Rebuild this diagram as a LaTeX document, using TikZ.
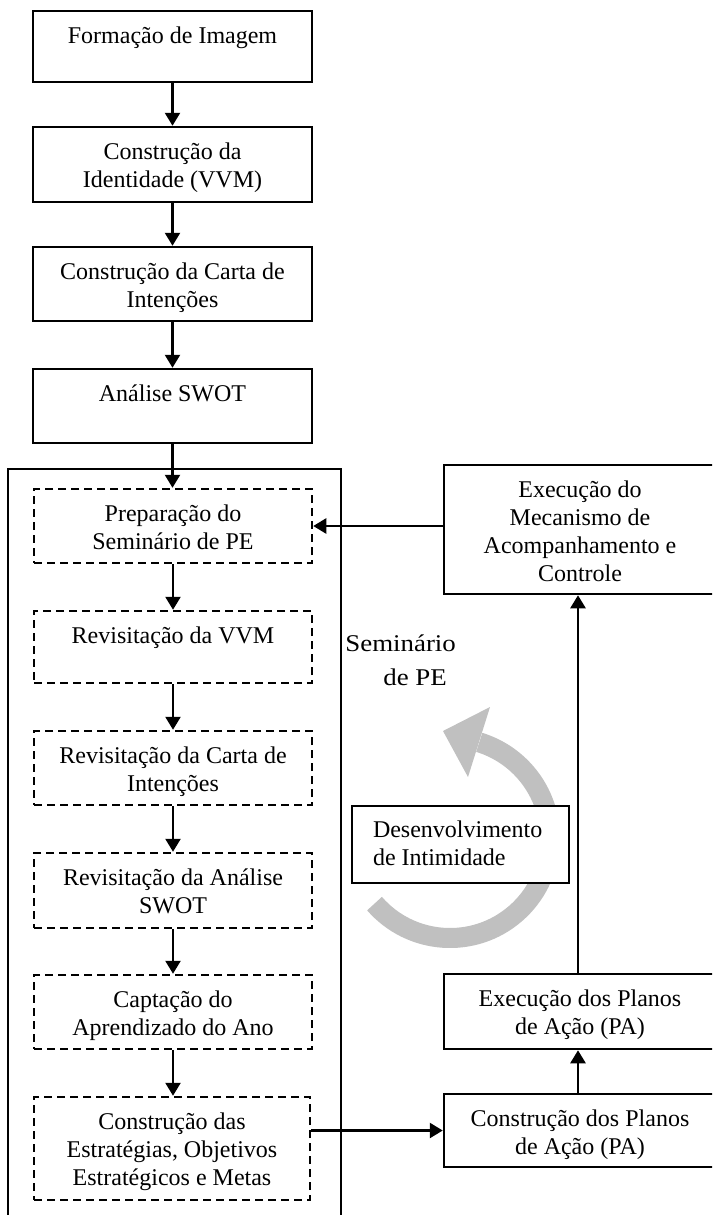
\documentclass[tikz,border=0pt]{standalone}
\usepackage{fontspec}
\setmainfont{Liberation Serif}
\newfontfamily\widefont{Liberation Serif}[FakeStretch=1.12]
\usetikzlibrary{arrows.meta,calc}
\definecolor{arcgray}{RGB}{192,192,192}
\newcommand{\bx}[3]{\parbox[c][#2][t]{#1}{\centering\vspace*{6.2pt}\strut #3}}
\tikzset{
  sbox/.style={draw, line width=1.25pt, inner sep=0pt, fill=white, font=\fontsize{12pt}{14pt}\selectfont},
  dbox/.style={sbox, dash pattern=on 4pt off 2.5pt},
  arr/.style={line width=1.25pt, -{Triangle[width=7.5pt,length=6.5pt]}},
  frame/.style={line width=1.25pt},
}
\begin{document}
\begin{tikzpicture}[x=0.5pt,y=-0.5pt]
\useasboundingbox (0,0) rectangle (712,1215);
\clip (0,0) rectangle (712,1215);
\fill[white] (0,0) rectangle (712,1215);
% left column
\node[sbox] (b1) at (172.5,46.5) {\bx{139.5pt}{35.5pt}{Formação de Imagem}};
\node[sbox] (b2) at (172.5,164.5) {\bx{139.5pt}{37.5pt}{Construção da\\Identidade (VVM)}};
\node[sbox] (b3) at (172.5,284) {\bx{139.5pt}{37pt}{Construção da Carta de\\Intenções}};
\node[sbox] (b4) at (172.5,406) {\bx{139.5pt}{37pt}{Análise SWOT}};
% seminar frame
\draw[frame] (8,1240) -- (8,469) -- (341,469) -- (341,1240);
\node[dbox] (d1) at (173,526) {\bx{139pt}{37pt}{Preparação do\\Seminário de PE}};
\node[dbox] (d2) at (173,647) {\bx{139pt}{36pt}{Revisitação da VVM}};
\node[dbox] (d3) at (173,768) {\bx{139pt}{37pt}{Revisitação da Carta de\\Intenções}};
\node[dbox] (d4) at (173,890.5) {\bx{139pt}{37.5pt}{Revisitação da Análise\\SWOT}};
\node[dbox] (d5) at (173,1012) {\bx{139pt}{37pt}{Captação do\\Aprendizado do Ano}};
\node[dbox] (d6) at (172,1148.5) {\bx{138pt}{51.5pt}{Construção das\\Estratégias, Objetivos\\Estratégicos e Metas}};
% right column
\node[sbox] (mec) at (580,529.5) {\bx{136pt}{64.5pt}{Execução do\\Mecanismo de\\Acompanhamento e\\Controle}};
\node[sbox] (epa) at (580,1011.5) {\bx{136pt}{37.5pt}{Execução dos Planos\\de Ação (PA)}};
\node[sbox] (cpa) at (580,1130.5) {\bx{136pt}{36.5pt}{Construção dos Planos\\de Ação (PA)}};
% label
\node[anchor=north west, inner sep=0pt, align=left, font={\widefont\fontsize{12pt}{17pt}\selectfont}] (sem) at (345,634) {Seminário\\\hspace*{19pt}de PE};
% gray cycle arrow
\coordinate (cc) at (450,838);
\draw[line width=10pt, arcgray] ($(cc)+(139:100)$) arc[start angle=139, end angle=-73, radius=100];
\fill[arcgray] (490,707) -- (468,777) -- (443,731) -- cycle;
\node[sbox] (dev) at (460.5,844.5) {\parbox[c][38.5pt][t]{108.5pt}{\raggedright\leftskip=10.5pt\vspace*{5.7pt}\strut Desenvolvimento\\de Intimidade}};
% connectors
\draw[arr] (b1) -- (b2);
\draw[arr] (b2) -- (b3);
\draw[arr] (b3) -- (b4);
\draw[arr] (b4.south) -- (b4.south |- d1.north);
\draw[arr] (d1) -- (d2);
\draw[arr] (d2) -- (d3);
\draw[arr] (d3) -- (d4);
\draw[arr] (d4) -- (d5);
\draw[arr] (d5.south) -- (d5.south |- d6.north);
\draw[arr] (d6.east |- cpa.west) -- (cpa.west);
\draw[arr] ([xshift=-1pt]cpa.north) -- ([xshift=-1pt]epa.south);
\draw[arr] ([xshift=-1pt]epa.north) -- ([xshift=-1pt]mec.south);
\draw[arr] (mec.west |- d1.east) -- (d1.east);
\end{tikzpicture}
\end{document}
